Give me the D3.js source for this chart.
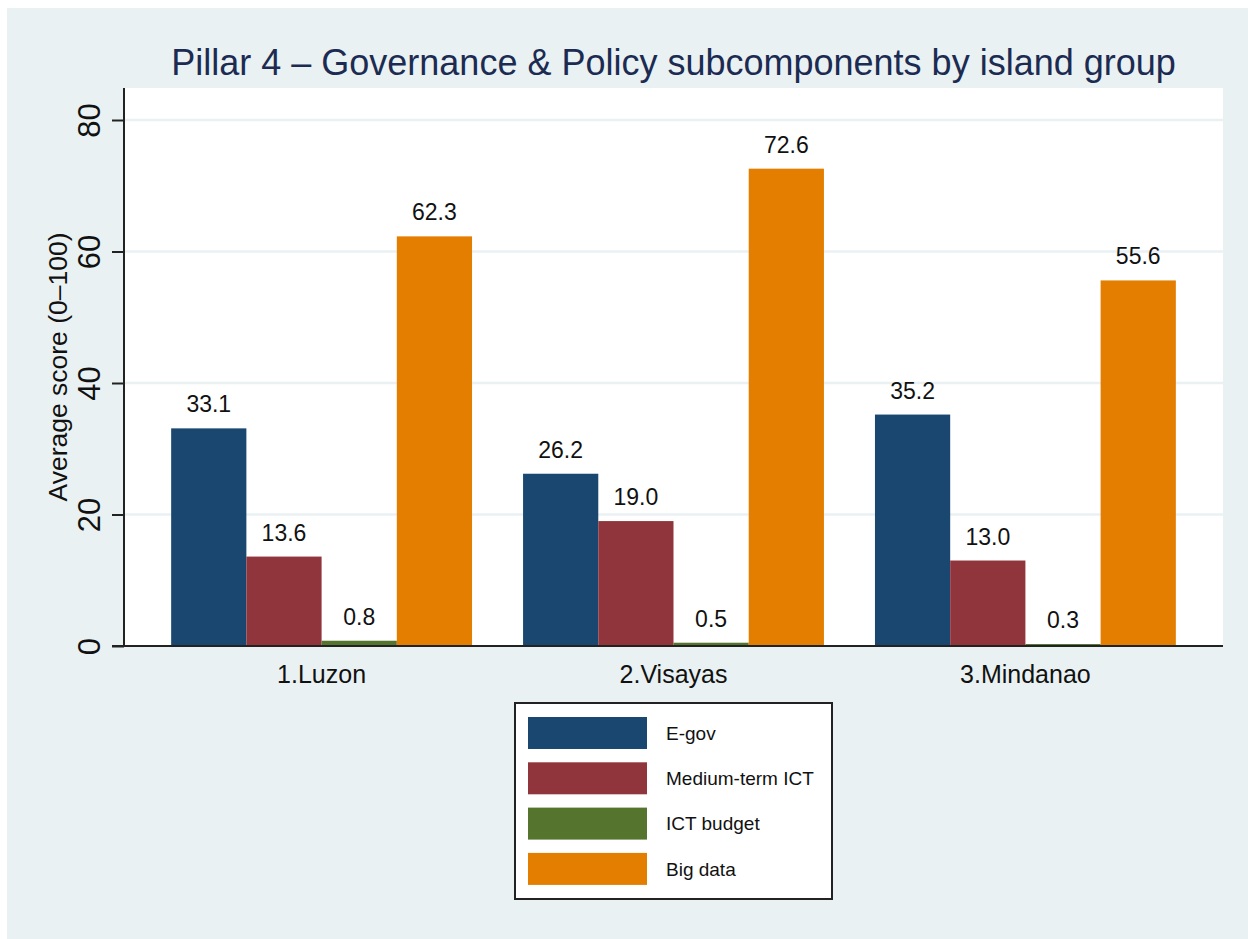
<!DOCTYPE html>
<html>
<head>
<meta charset="utf-8">
<script src="https://cdn.jsdelivr.net/npm/d3@7"></script>
<style>
  html, body { margin: 0; padding: 0; background: #ffffff; }
  svg { display: block; font-family: "Liberation Sans", Arial, sans-serif; }
</style>
</head>
<body>
<svg id="chart"></svg>
<script>
(function () {
  'use strict';

  // island groups on the x axis
  var groups = ['1.Luzon', '2.Visayas', '3.Mindanao'];
  // subcomponents (one bar each per group)
  var seriesNames = ['E-gov', 'Medium-term ICT', 'ICT budget', 'Big data'];
  var seriesColors = ['#1a476f', '#90353b', '#55752f', '#e37e00'];
  // average scores, one array per subcomponent, in group order
  var egov = [33.1, 26.2, 35.2];
  var mediumTerm = [13.6, 19.0, 13.0];
  var ictBudget = [0.8, 0.5, 0.3];
  var bigData = [62.3, 72.6, 55.6];
  var yTicks = [0, 20, 40, 60, 80];

  var values = [egov, mediumTerm, ictBudget, bigData];

  var W = 1248, H = 939;
  var margin = {top: 88, right: 25, bottom: 293, left: 124};
  var width = W - margin.left - margin.right;
  var height = H - margin.top - margin.bottom;

  var svg = d3.select('#chart')
    .attr('width', W)
    .attr('height', H);

  // stata-like light background panel
  svg.append('rect')
    .attr('x', 7)
    .attr('y', 8)
    .attr('width', W - 7)
    .attr('height', H - 8)
    .attr('fill', '#eaf1f3');

  var g = svg.append('g')
    .attr('transform', 'translate(' + margin.left + ',' + margin.top + ')');

  g.append('rect')
    .attr('width', width)
    .attr('height', height)
    .attr('fill', '#ffffff');

  var x0 = d3.scaleBand()
    .domain(groups)
    .range([0, width])
    .paddingInner(0.145)
    .paddingOuter(0.134);
  var x1 = d3.scaleBand()
    .domain(seriesNames)
    .range([0, x0.bandwidth()]);
  var y = d3.scaleLinear()
    .domain([0, 80])
    .range([height, 32]);

  // gridlines
  g.selectAll('.grid')
    .data(yTicks.filter(function (d) { return d > 0; }))
    .enter()
    .append('line')
    .attr('class', 'grid')
    .attr('x1', 0)
    .attr('x2', width)
    .attr('y1', function (d) { return y(d); })
    .attr('y2', function (d) { return y(d); })
    .attr('stroke', '#eaf1f3')
    .attr('stroke-width', 2.5);

  // bars
  var rows = [];
  groups.forEach(function (grp, gi) {
    seriesNames.forEach(function (s, si) {
      rows.push({group: grp, series: s, color: seriesColors[si], value: values[si][gi]});
    });
  });

  var bars = g.selectAll('.bar')
    .data(rows)
    .enter()
    .append('g')
    .attr('class', 'bar');

  bars.append('rect')
    .attr('x', function (d) { return x0(d.group) + x1(d.series); })
    .attr('y', function (d) { return y(d.value); })
    .attr('width', x1.bandwidth())
    .attr('height', function (d) { return height - y(d.value); })
    .attr('fill', function (d) { return d.color; });

  bars.append('text')
    .attr('x', function (d) { return x0(d.group) + x1(d.series) + x1.bandwidth() / 2; })
    .attr('y', function (d) { return y(d.value) - 16; })
    .attr('text-anchor', 'middle')
    .attr('font-size', 23)
    .attr('fill', '#111')
    .text(function (d) { return d.value.toFixed(1); });

  // y axis
  var yAxis = g.append('g')
    .call(d3.axisLeft(y).tickValues(yTicks).tickSize(12).tickPadding(0).tickFormat(d3.format('d')));
  yAxis.select('.domain')
    .attr('d', 'M0,0V' + height)
    .attr('stroke', '#222')
    .attr('stroke-width', 2);
  yAxis.selectAll('.tick line')
    .attr('stroke', '#222')
    .attr('stroke-width', 2);
  yAxis.selectAll('.tick text')
    .attr('transform', 'rotate(-90)')
    .attr('x', 0)
    .attr('y', -24)
    .attr('dy', 0)
    .attr('text-anchor', 'middle')
    .attr('font-size', 31)
    .attr('font-family', '"Liberation Sans", Arial, sans-serif')
    .attr('fill', '#111');

  // x axis
  var xAxis = g.append('g')
    .attr('transform', 'translate(0,' + height + ')')
    .call(d3.axisBottom(x0).tickSize(0).tickPadding(0));
  xAxis.select('.domain')
    .attr('d', 'M-12,0H' + width)
    .attr('stroke', '#222')
    .attr('stroke-width', 2);
  xAxis.selectAll('.tick text')
    .attr('y', 37)
    .attr('dy', 0)
    .attr('font-size', 25)
    .attr('font-family', '"Liberation Sans", Arial, sans-serif')
    .attr('fill', '#111');

  // y axis title
  g.append('text')
    .attr('transform', 'translate(' + (-57) + ',' + (height / 2) + ') rotate(-90)')
    .attr('text-anchor', 'middle')
    .attr('font-size', 26.5)
    .attr('fill', '#111')
    .text('Average score (0–100)');

  // chart title
  svg.append('text')
    .attr('x', margin.left + width / 2)
    .attr('y', 75)
    .attr('text-anchor', 'middle')
    .attr('font-size', 36)
    .attr('fill', '#1c2b52')
    .text('Pillar 4 – Governance & Policy subcomponents by island group');

  // legend
  var legend = svg.append('g')
    .attr('transform', 'translate(515,703)');
  legend.append('rect')
    .attr('width', 317)
    .attr('height', 196)
    .attr('fill', '#ffffff')
    .attr('stroke', '#222')
    .attr('stroke-width', 2);
  var items = legend.selectAll('.item')
    .data(seriesNames)
    .enter()
    .append('g')
    .attr('class', 'item')
    .attr('transform', function (d, i) { return 'translate(13,' + (14 + i * 45.3) + ')'; });
  items.append('rect')
    .attr('width', 119)
    .attr('height', 32)
    .attr('fill', function (d, i) { return seriesColors[i]; });
  items.append('text')
    .attr('x', 138)
    .attr('y', 16)
    .attr('dy', '0.35em')
    .attr('font-size', 19)
    .attr('fill', '#111')
    .text(function (d) { return d; });
}());
</script>
</body>
</html>
